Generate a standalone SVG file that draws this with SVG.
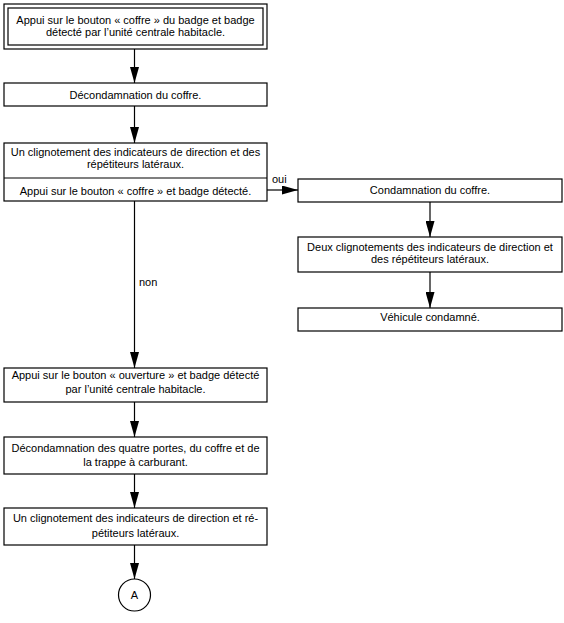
<svg xmlns="http://www.w3.org/2000/svg" width="564" height="623" viewBox="0 0 564 623">
<defs>
<style>
.box{fill:#fff;stroke:#000;stroke-width:1.2}
.t{font-family:"Liberation Sans",Arial,sans-serif;font-size:11px;fill:#000;text-anchor:middle}
.l{font-family:"Liberation Sans",Arial,sans-serif;font-size:11px;fill:#000}
.c{fill:none;stroke:#000;stroke-width:1.2}
</style>
<marker id="ah" viewBox="0 0 16 9" refX="16" refY="4.5" markerWidth="16" markerHeight="9" markerUnits="userSpaceOnUse" orient="auto">
<path d="M0,0 L16,4.5 L0,9 Z" fill="#000"/>
</marker>
</defs>
<rect width="564" height="623" fill="#fff"/>
<g id="connectors">
<line class="c" x1="134.5" y1="49" x2="134.5" y2="83" marker-end="url(#ah)"/>
<line class="c" x1="134.5" y1="106" x2="134.5" y2="143" marker-end="url(#ah)"/>
<line class="c" x1="134.5" y1="201" x2="134.5" y2="368" marker-end="url(#ah)"/>
<line class="c" x1="267" y1="190" x2="298" y2="190" marker-end="url(#ah)"/>
<line class="c" x1="430" y1="202" x2="430" y2="237" marker-end="url(#ah)"/>
<line class="c" x1="430" y1="272" x2="430" y2="308" marker-end="url(#ah)"/>
<line class="c" x1="134.5" y1="402" x2="134.5" y2="437" marker-end="url(#ah)"/>
<line class="c" x1="134.5" y1="474" x2="134.5" y2="508" marker-end="url(#ah)"/>
<line class="c" x1="134.5" y1="545" x2="134.5" y2="579" marker-end="url(#ah)"/>
<text class="l" x="272" y="183">oui</text>
<text class="l" x="139" y="286">non</text>
</g>
<g id="n1">
<rect class="box" x="4" y="4" width="263" height="45"/>
<rect class="box" x="8" y="8" width="255" height="37"/>
<text class="t" x="135.5" y="24">Appui sur le bouton « coffre » du badge et badge</text>
<text class="t" x="135.5" y="36">détecté par l’unité centrale habitacle.</text>
</g>
<g id="n2">
<rect class="box" x="4" y="83" width="263" height="23"/>
<text class="t" x="135.5" y="99">Décondamnation du coffre.</text>
</g>
<g id="n3">
<rect class="box" x="4" y="143" width="263" height="58"/>
<line class="c" x1="4" y1="178" x2="267" y2="178"/>
<text class="t" x="135.5" y="156">Un clignotement des indicateurs de direction et des</text>
<text class="t" x="135.5" y="168">répétiteurs latéraux.</text>
<text class="t" x="135.5" y="194.5">Appui sur le bouton « coffre » et badge détecté.</text>
</g>
<g id="n4">
<rect class="box" x="298" y="179" width="264" height="23"/>
<text class="t" x="430" y="194">Condamnation du coffre.</text>
</g>
<g id="n5">
<rect class="box" x="298" y="237" width="264" height="35"/>
<text class="t" x="430" y="251">Deux clignotements des indicateurs de direction et</text>
<text class="t" x="430" y="263">des répétiteurs latéraux.</text>
</g>
<g id="n6">
<rect class="box" x="298" y="308" width="264" height="23"/>
<text class="t" x="430" y="321">Véhicule condamné.</text>
</g>
<g id="n7">
<rect class="box" x="4" y="368" width="263" height="34"/>
<text class="t" x="135.5" y="379">Appui sur le bouton « ouverture » et badge détecté</text>
<text class="t" x="135.5" y="393">par l’unité centrale habitacle.</text>
</g>
<g id="n8">
<rect class="box" x="4" y="437" width="263" height="37"/>
<text class="t" x="135.5" y="452">Décondamnation des quatre portes, du coffre et de</text>
<text class="t" x="135.5" y="466">la trappe à carburant.</text>
</g>
<g id="n9">
<rect class="box" x="4" y="508" width="263" height="37"/>
<text class="t" x="135.5" y="522">Un clignotement des indicateurs de direction et ré-</text>
<text class="t" x="135.5" y="537">pétiteurs latéraux.</text>
</g>
<g id="n10">
<circle class="box" cx="134.5" cy="595" r="16"/>
<text class="t" x="134.5" y="599">A</text>
</g>
</svg>
